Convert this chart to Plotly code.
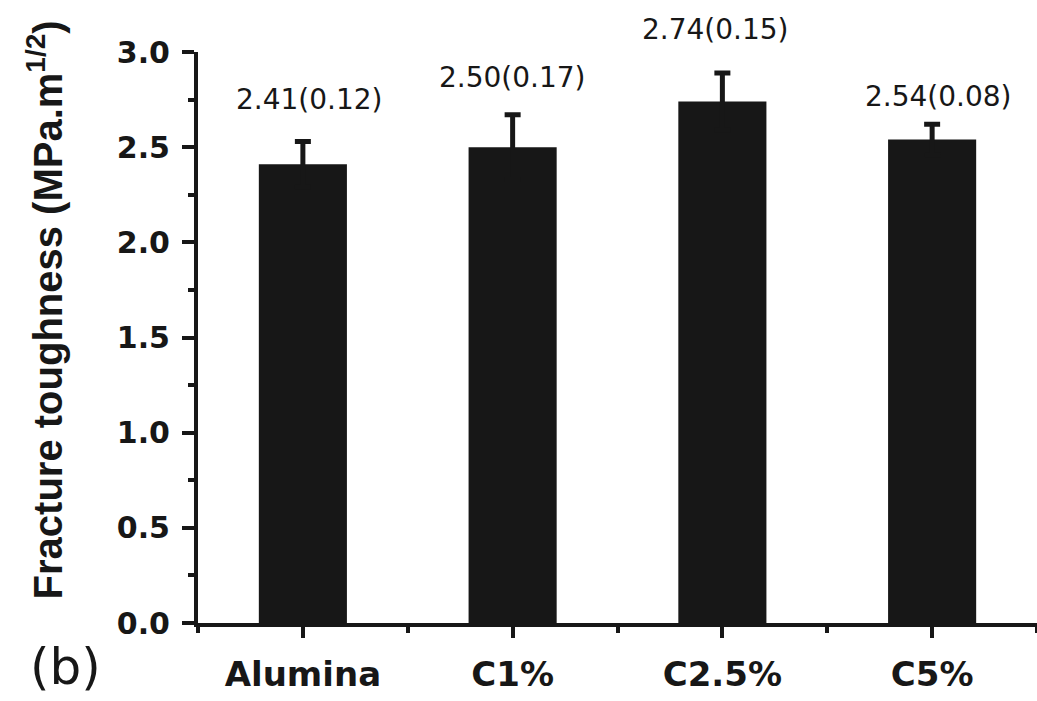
import plotly.graph_objects as go

# Fracture toughness per composition (mean and standard deviation)
categories = ["Alumina", "C1%", "C2.5%", "C5%"]
toughness = [2.41, 2.50, 2.74, 2.54]
std_dev = [0.12, 0.17, 0.15, 0.08]
y_ticks = [0.0, 0.5, 1.0, 1.5, 2.0, 2.5, 3.0]

INK = "#171717"
positions = list(range(len(categories)))

fig = go.Figure()
fig.add_trace(go.Bar(
    x=positions,
    y=toughness,
    width=0.42,
    marker=dict(color=INK, line=dict(width=0)),
    error_y=dict(type="data", array=std_dev, visible=True,
                 color=INK, thickness=5, width=8),
    showlegend=False,
))

# value(std) labels above each error bar
label_dy = [23, 19, 25, 9]
label_dx = [7, 0, -7, 6]
for i, (v, s) in enumerate(zip(toughness, std_dev)):
    fig.add_annotation(
        x=positions[i], y=v + s, xref="x", yref="y",
        text=f"{v:.2f}({s:.2f})", showarrow=False,
        yanchor="bottom", yshift=label_dy[i], xshift=label_dx[i],
        font=dict(family="DejaVu Sans", size=28, color=INK),
    )

# rotated axis title
fig.add_annotation(
    x=-0.182, y=0.548, xref="paper", yref="paper",
    text="Fracture toughness (MPa.m<sup>1/2</sup>)", textangle=-90,
    showarrow=False, xanchor="center", yanchor="middle",
    font=dict(family="Liberation Sans", size=40, color=INK, weight="bold"),
)

# panel tag
fig.add_annotation(
    x=-0.158, y=-0.077, xref="paper", yref="paper",
    text="(b)", showarrow=False, xanchor="center", yanchor="middle",
    font=dict(family="DejaVu Sans", size=50, color=INK),
)

fig.update_xaxes(
    range=[-0.5, len(categories) - 0.5],
    tickmode="array", tickvals=positions, ticktext=categories,
    ticks="outside", ticklen=11, tickwidth=4, tickcolor=INK,
    minor=dict(tickmode="array",
               tickvals=[p + 0.5 for p in [-1] + positions],
               ticks="outside", ticklen=6, tickwidth=4, tickcolor=INK),
    showline=True, linewidth=4, linecolor=INK,
    showgrid=False, zeroline=False, automargin=False,
    tickfont=dict(family="DejaVu Sans", size=34, color=INK, weight="bold"),
    ticklabelstandoff=7,
)
fig.update_yaxes(
    range=[0, 3.0],
    tickmode="array", tickvals=y_ticks, tickformat=".1f",
    ticks="outside", ticklen=12, tickwidth=4, tickcolor=INK,
    minor=dict(tick0=0.25, dtick=0.5, ticks="outside",
               ticklen=6, tickwidth=4, tickcolor=INK),
    showline=True, linewidth=4, linecolor=INK,
    showgrid=False, zeroline=False, automargin=False,
    tickfont=dict(family="DejaVu Sans", size=30, color=INK, weight="bold"),
    ticklabelstandoff=6,
)

fig.update_layout(
    width=1037, height=701,
    margin=dict(l=198, r=0, t=52, b=78),
    paper_bgcolor="white", plot_bgcolor="white",
    bargap=0.58,
)

fig.write_html("out.html")
